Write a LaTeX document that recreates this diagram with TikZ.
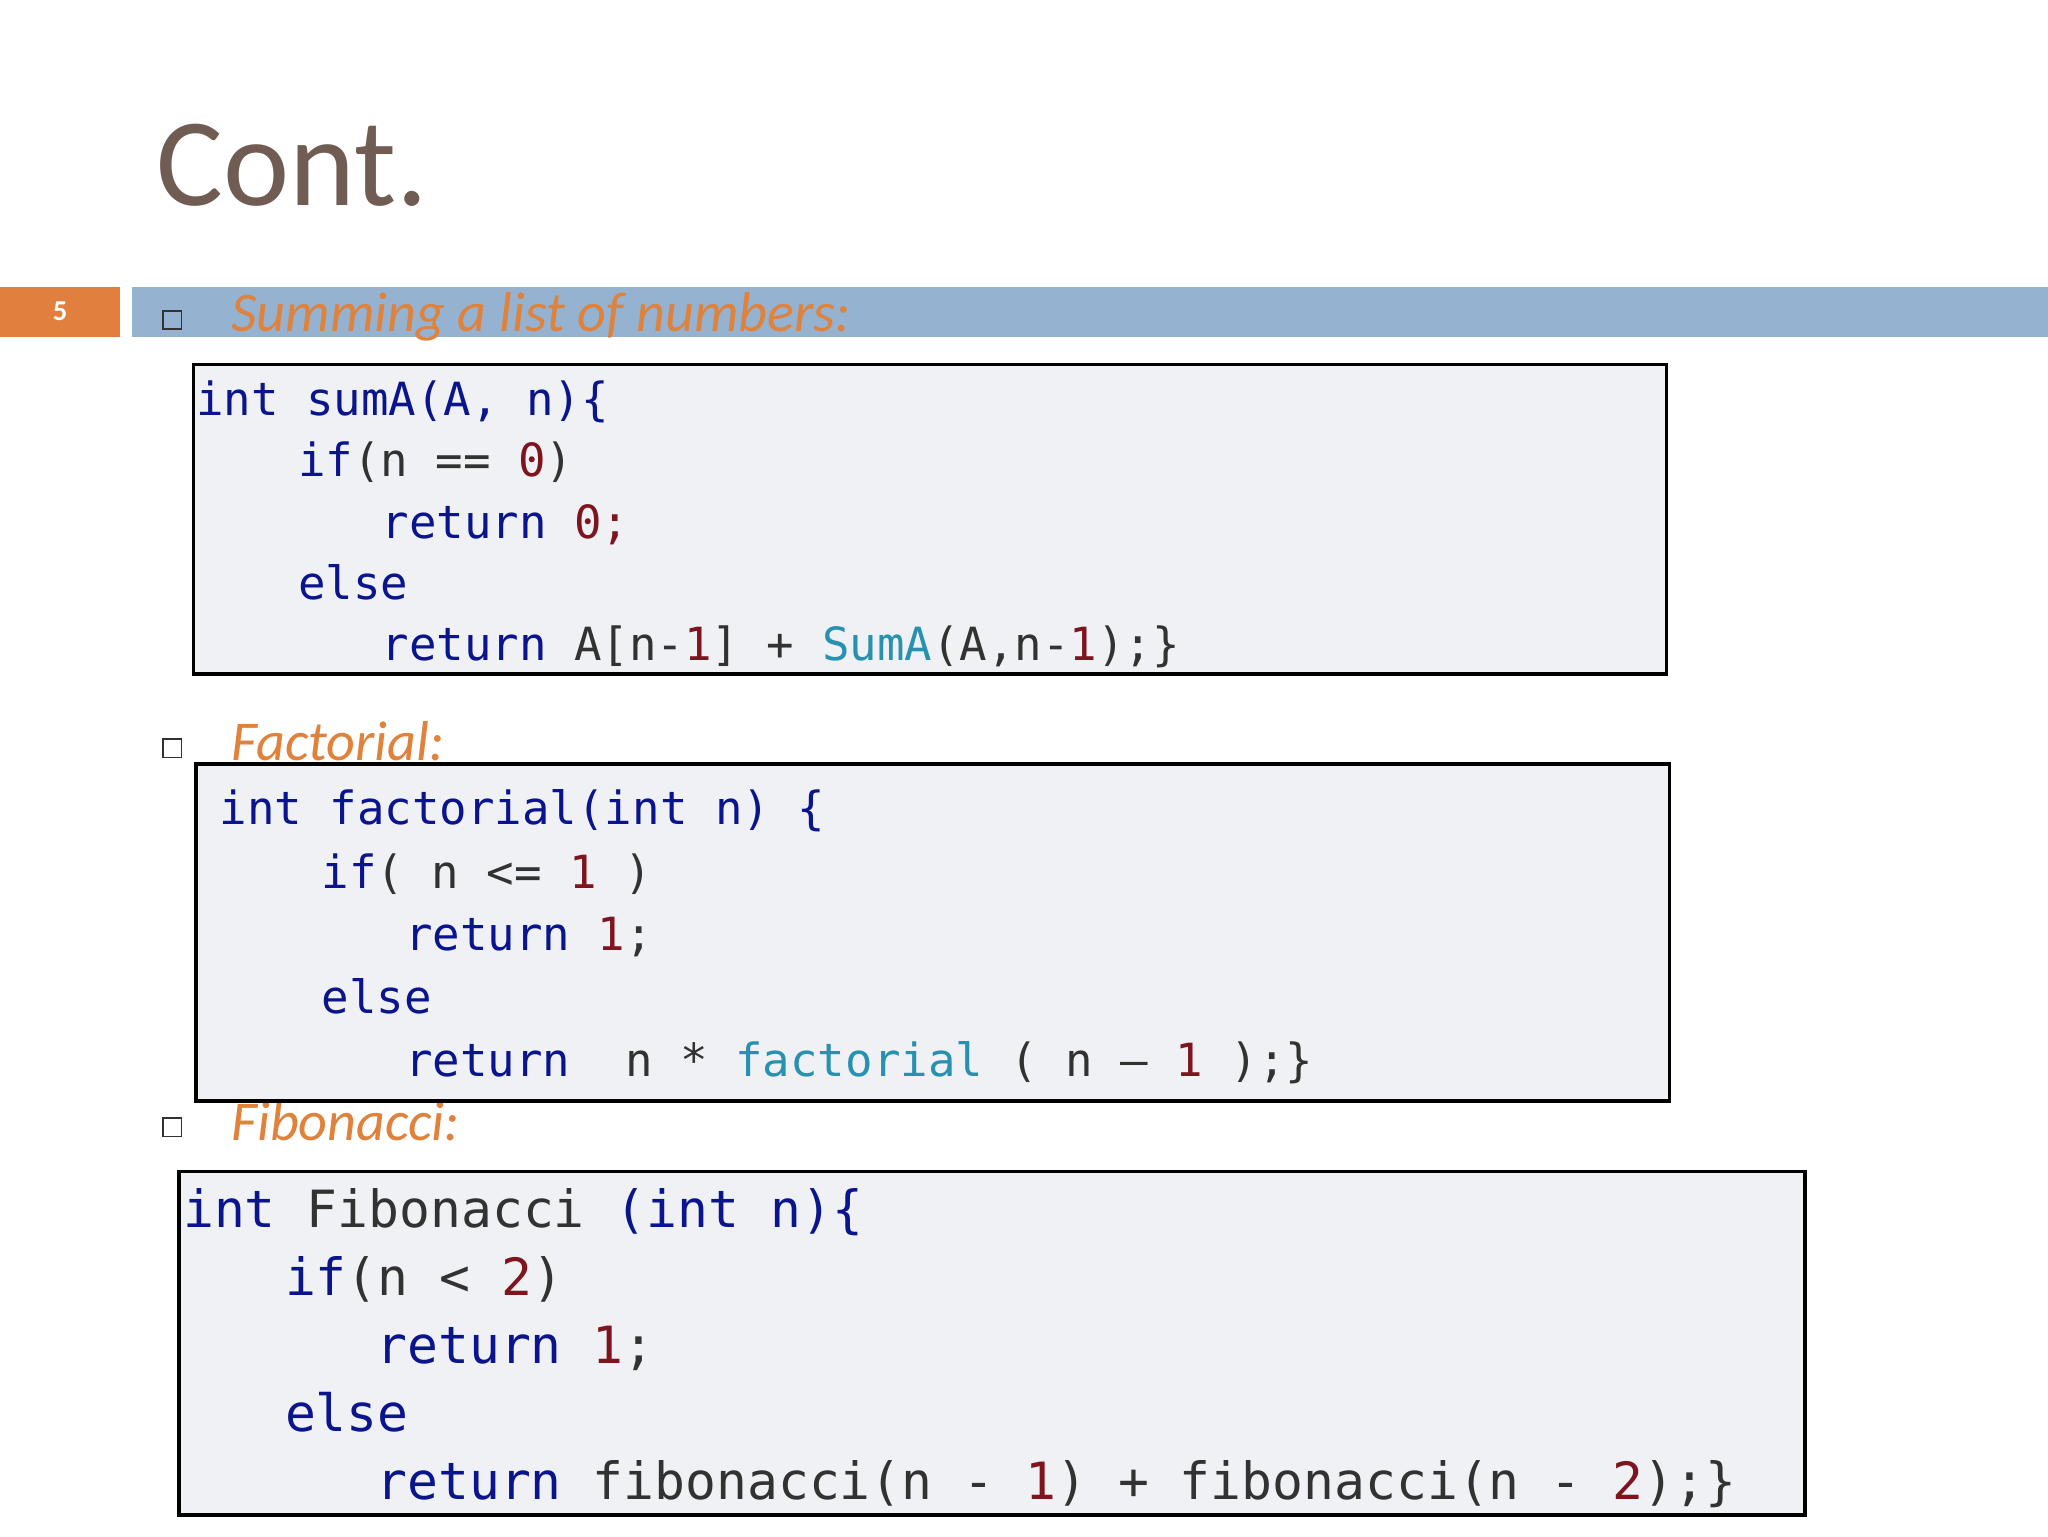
\documentclass[tikz,border=0pt]{standalone}
\usepackage{fontspec}
\setmainfont{Carlito}
\newfontfamily\codefont{DejaVu Sans Mono}
\definecolor{kwc}{RGB}{10,20,140}
\definecolor{nmc}{RGB}{125,20,30}
\definecolor{fnc}{RGB}{40,145,175}
\definecolor{txc}{RGB}{50,50,50}
\definecolor{boxc}{RGB}{240,241,244}
\definecolor{barc}{RGB}{149,179,209}
\definecolor{orc}{RGB}{225,128,62}
\definecolor{hdc}{RGB}{222,130,60}
\definecolor{ttc}{RGB}{112,92,82}
\newcommand{\kwd}[1]{\textcolor{kwc}{#1}}
\newcommand{\numb}[1]{\textcolor{nmc}{#1}}
\newcommand{\fnm}[1]{\textcolor{fnc}{#1}}
\begin{document}
\begin{tikzpicture}[x=1pt,y=-1pt,
  codeA/.style={anchor=base west,inner sep=0,font=\codefont\fontsize{35}{35}\selectfont,text=txc},
  codeB/.style={codeA,font=\codefont\fontsize{39.3}{39.3}\selectfont},
  cbox/.style={draw=black,line width=2.5pt,fill=boxc},
  head/.style={anchor=base west,inner sep=0,font=\fontsize{43}{43}\selectfont\itshape,text=hdc},
  bul/.style={draw=txc,line width=1.2pt,minimum size=14pt,inner sep=0}]
\useasboundingbox (0,0) rectangle (1568,1176);
\fill[white] (0,0) rectangle (1568,1176);
\node[anchor=base west,inner sep=0,font=\fontsize{96}{96}\selectfont,text=ttc] (title) at (120,157) {Cont.};
\fill[orc] (0,220) rectangle (92,258);
\node[font=\bfseries\fontsize{22}{22}\selectfont,text=white] (num) at (46,238) {5};
\fill[barc] (101,220) rectangle (1568,258);
\node[bul] (b1) at (132,245) {};
\node[head] (h1) at (177,254) {Summing a list of numbers:};
\node[bul] (b2) at (132,573) {};
\node[head] (h2) at (177,582) {Factorial:};
\node[bul] (b3) at (132,863) {};
\node[head] (h3) at (177,873) {Fibonacci:};
% box 1
\draw[cbox] (148,279) rectangle (1276,516);
\node[codeA] (a1) at (150,318) {\kwd{int sumA(A, n)\{}};
\node[codeA] (a2) at (228,365) {\kwd{if}(n == \numb{0})};
\node[codeA] (a3) at (292,412) {\kwd{return} \numb{0;}};
\node[codeA] (a4) at (228,459) {\kwd{else}};
\node[codeA] (a5) at (292,506) {\kwd{return} A[n-\numb{1}] + \fnm{SumA}(A,n-\numb{1});\}};
% box 2
\draw[cbox] (150,585) rectangle (1278,843);
\node[codeA] (f1) at (168,631) {\kwd{int factorial(int n) \{}};
\node[codeA] (f2) at (246,680) {\kwd{if}( n <= \numb{1} )};
\node[codeA] (f3) at (310,728) {\kwd{return} \numb{1};};
\node[codeA] (f4) at (246,776) {\kwd{else}};
\node[codeA] (f5) at (310,824) {\kwd{return}\ \ n * \fnm{factorial} ( n – \numb{1} );\}};
% box 3
\draw[cbox] (137,897) rectangle (1382,1160);
\node[codeB] (g1) at (140,940) {\kwd{int} Fibonacci \kwd{(int n)\{}};
\node[codeB] (g2) at (218,992) {\kwd{if}(n < \numb{2})};
\node[codeB] (g3) at (288,1044) {\kwd{return} \numb{1};};
\node[codeB] (g4) at (218,1096) {\kwd{else}};
\node[codeB] (g5) at (288,1148) {\kwd{return} fibonacci(n - \numb{1}) + fibonacci(n - \numb{2});\}};
\end{tikzpicture}
\end{document}
